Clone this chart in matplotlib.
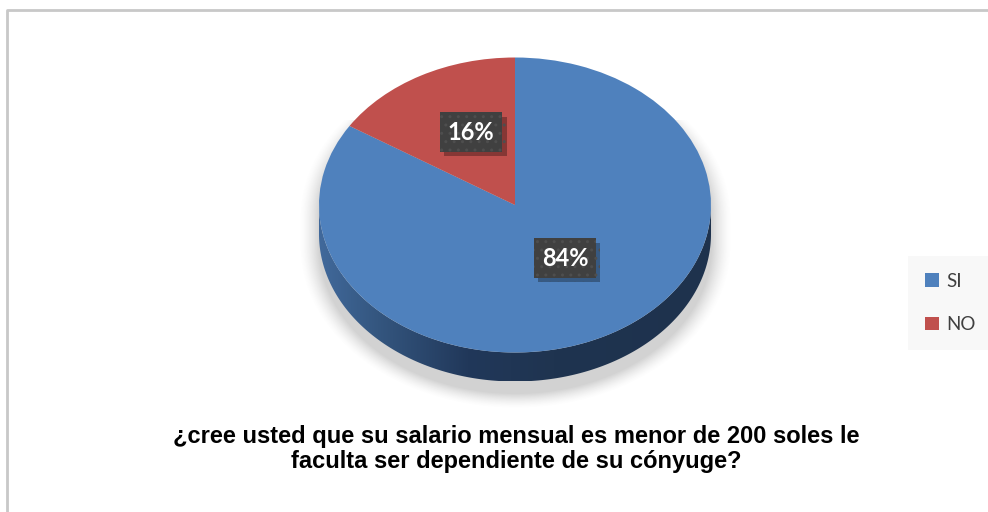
import numpy as np
import matplotlib
matplotlib.use("Agg")
import matplotlib.pyplot as plt
from matplotlib.patches import Patch, Polygon
from matplotlib.lines import Line2D
from matplotlib.colors import LinearSegmentedColormap
import matplotlib.patheffects as pe

# ---- data ----
categories = ["SI", "NO"]
values = [84, 16]
pct_labels = ["84%", "16%"]
colors = ["#4f81bd", "#c0504d"]
title = "¿cree usted que su salario mensual es menor de 200 soles le\nfaculta ser dependiente de su cónyuge?"

W, H = 988, 512
fig = plt.figure(figsize=(W / 100, H / 100), dpi=100)
fig.patch.set_facecolor("white")

# background axes in pixel coordinates (shadow, border)
bg = fig.add_axes([0, 0, 1, 1], zorder=0)
bg.set_xlim(0, W)
bg.set_ylim(H, 0)
bg.axis("off")

# geometry of the pie (pixels)
cx, cy = 515, 205
a, b = 196, 147.5
depth = 29

# soft shadow under the pie
xs = np.arange(280, 760)
ys = np.arange(120, 420)
X, Y = np.meshgrid(xs, ys)
off = 12
c1, c2 = cy + off, cy + off + depth
dy = np.where(Y < c1, Y - c1, np.where(Y > c2, Y - c2, 0))
r = np.sqrt(((X - cx) / (a + 6)) ** 2 + (dy / (b + 4)) ** 2)
alpha = np.clip((1.07 - r) / 0.10, 0, 1)
alpha = alpha ** 1.5 * 0.32
img = np.zeros((len(ys), len(xs), 4))
img[..., :3] = 0.45
img[..., 3] = alpha
bg.imshow(img, extent=(xs[0], xs[-1] + 1, ys[-1] + 1, ys[0]), interpolation="bilinear", zorder=1)

# border lines
bg.add_line(Line2D([7, 7, W], [H, 10, 10], color="#c8c8c8", lw=2.0, zorder=2))

# pie axes
d = depth / b
pax = fig.add_axes([(cx - a) / W, 1 - (cy + b + depth) / H, 2 * a / W, (2 * b + depth) / H], zorder=1)
wedges, _ = pax.pie(values, colors=colors, startangle=90, counterclock=False,
                    wedgeprops=dict(linewidth=0, antialiased=True))
for w in wedges:
    w.set_zorder(5)
pax.set_aspect("auto")
pax.set_xlim(-1, 1)
pax.set_ylim(-1 - d, 1)
pax.axis("off")

# side of the cylinder with a gradient
t = np.linspace(np.pi, 2 * np.pi, 200)
upper = np.column_stack([np.cos(t), np.sin(t)])
lower = np.column_stack([np.cos(t[::-1]), np.sin(t[::-1]) - d])
side = Polygon(np.vstack([upper, lower]), closed=True, facecolor="none", edgecolor="none")
pax.add_patch(side)
cmap = LinearSegmentedColormap.from_list(
    "side", [(0.0, "#41699b"), (0.15, "#34567f"), (0.38, "#21385a"), (0.6, "#1f3450"), (1.0, "#1e324d")])
grad = np.linspace(0, 1, 256).reshape(1, -1)
im = pax.imshow(grad, extent=(-1, 1, -1 - d, 0.05), aspect="auto", cmap=cmap, zorder=3,
                interpolation="bilinear")
im.set_clip_path(side)
pax.set_xlim(-1, 1)
pax.set_ylim(-1 - d, 1)

# percentage labels (dark boxes with a soft shadow)
label_pos = {"84%": (565, 258), "16%": (471, 132)}
for lab in pct_labels:
    x, y = label_pos[lab]
    t_ = fig.text(x / W, 1 - y / H, lab, ha="center", va="center",
                  family="Lato", weight="bold", fontsize=17, color="white",
                  bbox=dict(boxstyle="square,pad=0.34", fc="#404040", ec="#4e4e4e", lw=0, hatch=".."),
                  zorder=5)
    t_.get_bbox_patch().set_path_effects(
        [pe.SimplePatchShadow(offset=(3, -3), shadow_rgbFace="black", alpha=0.3), pe.Normal()])

# legend
handles = [Patch(facecolor=c, edgecolor="none") for c in colors]
leg = fig.legend(handles, categories, loc="center left", bbox_to_anchor=(908 / W, 1 - 303 / H),
                 frameon=True, fancybox=False, labelspacing=1.4,
                 handlelength=0.75, handleheight=0.75, handletextpad=0.4,
                 borderpad=0.9, borderaxespad=0, prop=dict(family="Lato", size=13.5))
leg.get_frame().set_facecolor("#f7f7f7")
leg.get_frame().set_edgecolor("none")
for txt in leg.get_texts():
    txt.set_color("#404040")

# title
fig.text(516 / W, 1 - 449 / H, title, ha="center", va="center", family="Liberation Sans",
         weight="bold", fontsize=17, color="black", linespacing=1.1)

fig.savefig("out.png", dpi=100, facecolor="white")
